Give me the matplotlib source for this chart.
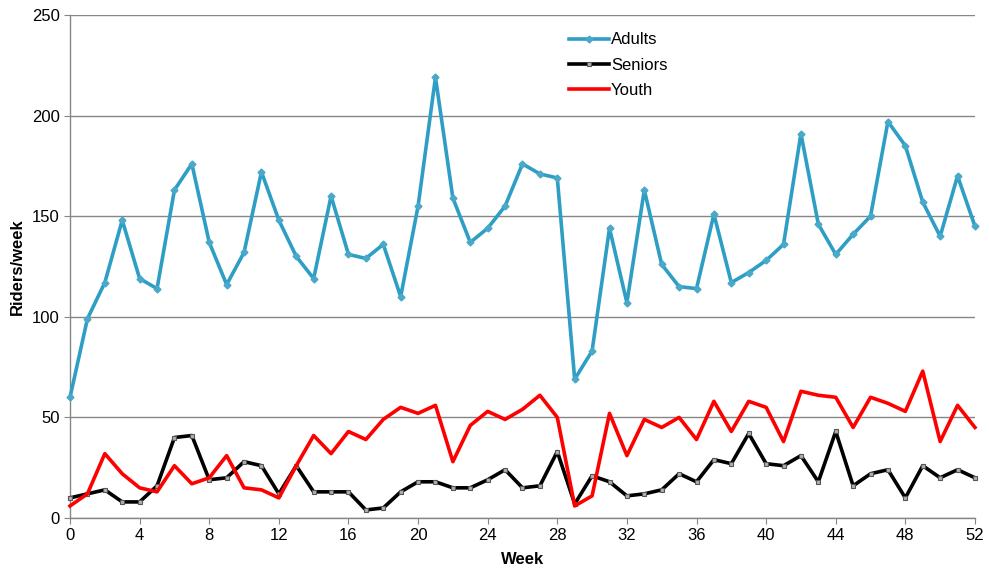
import numpy as np
import matplotlib.pyplot as plt

plt.rcParams['font.family'] = ['Liberation Sans', 'DejaVu Sans']

weeks = np.arange(0, 53)

adults = [60, 99, 117, 148, 119, 114, 163, 176, 137, 116, 132, 172, 148, 130, 119, 160, 131, 129,
          136, 110, 155, 219, 159, 137, 144, 155, 176, 171, 169, 69, 83, 144, 107, 163, 126, 115,
          114, 151, 117, 122, 128, 136, 191, 146, 131, 141, 150, 197, 185, 157, 140, 170, 145]

seniors = [10, 12, 14, 8, 8, 16, 40, 41, 19, 20, 28, 26, 12, 26, 13, 13, 13, 4,
           5, 13, 18, 18, 15, 15, 19, 24, 15, 16, 33, 7, 21, 18, 11, 12, 14, 22,
           18, 29, 27, 42, 27, 26, 31, 18, 43, 16, 22, 24, 10, 26, 20, 24, 20]

youth = [6, 12, 32, 22, 15, 13, 26, 17, 20, 31, 15, 14, 10, 26, 41, 32, 43, 39,
         49, 55, 52, 56, 28, 46, 53, 49, 54, 61, 50, 6, 11, 52, 31, 49, 45, 50,
         39, 58, 43, 58, 55, 38, 63, 61, 60, 45, 60, 57, 53, 73, 38, 56, 45]

fig = plt.figure(figsize=(9.89, 5.71), dpi=100)
ax = fig.add_axes([0.0708, 0.0928, 0.915, 0.881])

ax.plot(weeks, adults, color='#2f9ec5', lw=2.6, marker='D', ms=3.5,
        mfc='#4aa9c9', mec='#4aa9c9', label='Adults', zorder=3, clip_on=False)
ax.plot(weeks, seniors, color='black', lw=2.6, marker='s', ms=3.5,
        mfc='#b0b0b0', mec='#555555', mew=0.8, label='Seniors', zorder=3, clip_on=False)
ax.plot(weeks, youth, color='#ff0000', lw=2.6, label='Youth', zorder=4, clip_on=False)

ax.set_xlim(0, 52)
ax.set_ylim(0, 250)
ax.set_xticks(np.arange(0, 53, 4))
ax.set_yticks(np.arange(0, 251, 50))
ax.grid(axis='y', color='#868686', lw=1)
ax.set_axisbelow(True)
for s in ['top', 'right']:
    ax.spines[s].set_visible(False)
for s in ['left', 'bottom']:
    ax.spines[s].set_color('#868686')
    ax.spines[s].set_linewidth(1)
ax.tick_params(colors='#868686', labelcolor='black', labelsize=12, length=4)

ax.set_xlabel('Week', fontsize=12, fontweight='bold', labelpad=6)
ax.set_ylabel('Riders/week', fontsize=12, fontweight='bold', labelpad=5)

ax.legend(loc='upper left', bbox_to_anchor=(0.535, 0.995), frameon=False,
          fontsize=12, handlelength=2.4, handletextpad=0.1, labelspacing=0.62)

fig.savefig('out.png', dpi=100)
